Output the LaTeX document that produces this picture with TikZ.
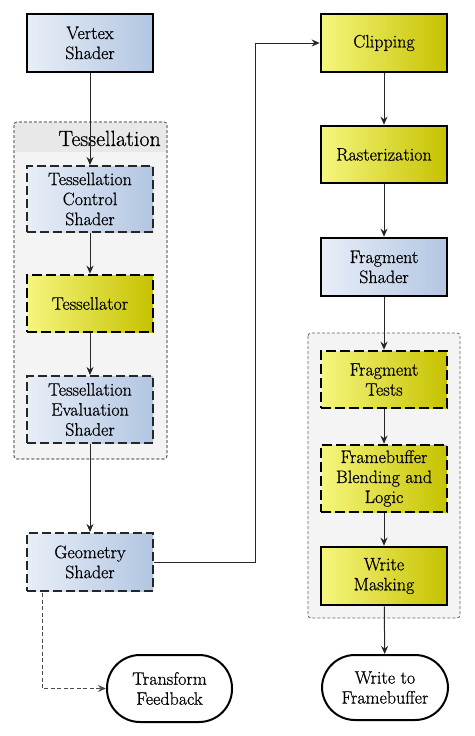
\documentclass[tikz,border=0pt]{standalone}
\usepackage{fontspec}
\setmainfont{Latin Modern Roman}
\newfontfamily\serf{Latin Modern Roman}[FakeBold=0.6]
\usetikzlibrary{arrows.meta,calc}
\definecolor{bluel}{HTML}{E8EEF8}
\definecolor{bluer}{HTML}{B2C6E2}
\definecolor{yell}{HTML}{F6F67E}
\definecolor{yelr}{HTML}{C6C200}
\definecolor{grpfill}{HTML}{F4F4F4}
\definecolor{grpband}{HTML}{E8E8E8}
\tikzset{
  x=1pt,y=1pt,
  box/.style={rectangle,minimum width=126pt,inner sep=0pt,align=center,
    font=\serf\fontsize{18}{20}\selectfont,text=black},
  bluebox/.style={box,left color=bluel,right color=bluer},
  yelbox/.style={box,left color=yell,right color=yelr},
  solidb/.style={draw=black,line width=2.6pt},
  dashb/.style={draw=black!85,line width=2pt,dash pattern=on 9pt off 4pt},
  dashy/.style={draw=black,line width=2.6pt,dash pattern=on 10pt off 4pt},
  term/.style={box,draw=black,line width=2pt,rounded corners=33pt,fill=white},
  grp/.style={draw=black!60,line width=0.8pt,dash pattern=on 3pt off 2pt,rounded corners=3pt},
  conn/.style={draw=black!85,line width=1pt,-{Stealth[length=8pt,width=7pt]}},
}
\begin{document}
\begin{tikzpicture}
\useasboundingbox (0,0) rectangle (474,-736);
% groups
\path[grp,fill=grpfill] (14,-122) rectangle (167,-459);
\fill[grpband] (14.8,-122.8) rectangle (166.2,-152);
\draw[grp] (14,-122) rectangle (167,-459);
\node[anchor=base east,font=\serf\fontsize{22}{24}\selectfont,inner sep=0pt] (ttl) at (161,-146) {Tessellation};
\draw[grp,fill=grpfill] (308,-333) rectangle (460,-618);
% left column
\node[bluebox,solidb,minimum height=58pt] (vs) at (90,-43) {Vertex\\Shader};
\node[bluebox,dashb,minimum height=66pt] (tcs) at (90,-199) {Tessellation\\Control\\Shader};
\node[yelbox,dashy,minimum height=57pt] (tes) at (90,-303.5) {Tessellator};
\node[bluebox,dashb,minimum height=67pt] (tev) at (90,-409.5) {Tessellation\\Evaluation\\Shader};
\node[bluebox,dashb,minimum height=58pt] (geo) at (90,-562) {Geometry\\Shader};
\node[term,minimum width=125pt,minimum height=67pt] (tf) at (169.5,-688.5) {Transform\\Feedback};
% right column
\node[yelbox,solidb,minimum height=58pt] (clip) at (384,-43) {Clipping};
\node[yelbox,solidb,minimum height=57pt] (ras) at (384,-154.5) {Rasterization};
\node[bluebox,solidb,minimum height=58pt] (fs) at (384,-267) {Fragment\\Shader};
\node[yelbox,dashy,minimum height=57pt] (ft) at (384,-379.5) {Fragment\\Tests};
\node[yelbox,dashy,minimum height=67pt] (fb) at (384,-478.5) {Framebuffer\\Blending and\\Logic};
\node[yelbox,solidb,minimum height=58pt] (wm) at (384,-576) {Write\\Masking};
\node[term,minimum width=126pt,minimum height=65pt] (wtf) at (385,-687.5) {Write to\\Framebuffer};
% connectors
\draw[conn] (vs) -- (tcs);
\draw[conn] (tcs) -- (tes);
\draw[conn] (tes) -- (tev);
\draw[conn] (tev) -- (geo);
\coordinate (turn) at (255,-562);
\draw[conn] (geo.east) -- (turn) |- (clip.west);
\coordinate (dstart) at ($(geo.south west)+(16,-1)$);
\draw[conn,draw=black!70,dash pattern=on 4pt off 2.5pt] (dstart) |- (tf.west);
\draw[conn] (clip) -- (ras);
\draw[conn] (ras) -- (fs);
\draw[conn] (fs) -- (ft);
\draw[conn] (ft) -- (fb);
\draw[conn] (fb) -- (wm);
\draw[conn] (wm) -- (wtf);
\end{tikzpicture}
\end{document}
